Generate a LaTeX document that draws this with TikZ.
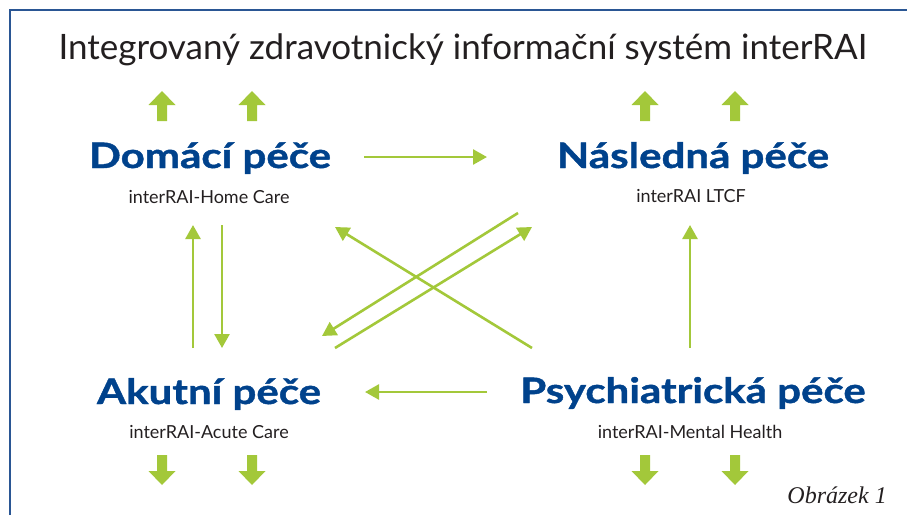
\documentclass[tikz,border=0pt]{standalone}
\usepackage{fontspec}
\setmainfont{Lato}
\newfontfamily\carefont{Lato}[FakeStretch=1.2, BoldFeatures={FakeBold=1.2}]
\newfontfamily\figfont{Liberation Serif}
\usepackage{tikz}
\usetikzlibrary{arrows.meta,positioning}
\definecolor{rai-green}{HTML}{A3C83A}
\definecolor{rai-blue}{HTML}{00428C}
\definecolor{rai-frame}{HTML}{2A5694}
\definecolor{rai-text}{HTML}{231F20}
\tikzset{
    care-title/.style = {anchor=base, inner sep=0pt, text=rai-blue, font=\carefont\fontsize{35}{38}\selectfont\bfseries},
    care-sub/.style = {anchor=base, inner sep=0pt, text=rai-text, font=\fontsize{18}{21}\selectfont},
    link/.style = {draw=rai-green, line width=2.6pt, -{Triangle[length=14pt,width=15pt]}},
    fat-up/.pic = {\fill[rai-green] (0,-15) -- (13.5,-1) -- (5,-1) -- (5,15) -- (-5,15) -- (-5,-1) -- (-13.5,-1) -- cycle;},
}
\begin{document}
\begin{tikzpicture}[x=1pt,y=-1pt]
\useasboundingbox (0,0) rectangle (907,515);
\draw[rai-frame, line width=2pt] (10,515) -- (10,10) -- (907,10);

\node[anchor=base, inner sep=0pt, text=rai-text, font=\fontsize{35}{38}\selectfont] (title) at (463,59) {Integrovaný zdravotnický informační systém interRAI};

% the four kinds of care
\node[care-title] (dom) at (210,168) {Domácí péče};
\node[care-sub] (domsub) at (209,203) {interRAI-Home Care};
\node[care-title] (nas) at (693,168) {Následná péče};
\node[care-sub] (nassub) at (691,202) {interRAI LTCF};
\node[care-title] (aku) at (209,404) {Akutní péče};
\node[care-sub] (akusub) at (209,438) {interRAI-Acute Care};
\node[care-title] (psy) at (693,403) {Psychiatrická péče};
\node[care-sub] (psysub) at (690,438) {interRAI-Mental Health};

\node[anchor=base east, inner sep=0pt, text=rai-text, font=\figfont\fontsize{24}{28}\selectfont\itshape] (fig) at (887,503) {Obrázek 1};

% fat arrows up to the system and down
\foreach \x in {162,252,645,735} \pic at (\x,106) {fat-up};
\foreach \x in {162,252,645,735} \pic[rotate=180] at (\x,470) {fat-up};

% links between the kinds of care
\draw[link] ([shift={(154,-11)}]dom.base) -- ([shift={(-206,-11)}]nas.base);
\draw[link] ([shift={(-206,-11)}]psy.base) -- ([shift={(156,-12)}]aku.base);
\draw[link] ([shift={(-16,-56)}]aku.base) -- ([shift={(-16,22)}]domsub.base);
\draw[link] ([shift={(13,22)}]domsub.base) -- ([shift={(13,-56)}]aku.base);
\draw[link] ([shift={(-3,-55)}]psy.base) -- ([shift={(-1,23)}]nassub.base);
\draw[link] ([shift={(-161,-55)}]psy.base) -- ([shift={(126,24)}]domsub.base);
\draw[link] ([shift={(126,-56)}]aku.base) -- ([shift={(-159,25)}]nassub.base);
\draw[link] ([shift={(-173,11)}]nassub.base) -- ([shift={(113,-68)}]aku.base);
\end{tikzpicture}
\end{document}
